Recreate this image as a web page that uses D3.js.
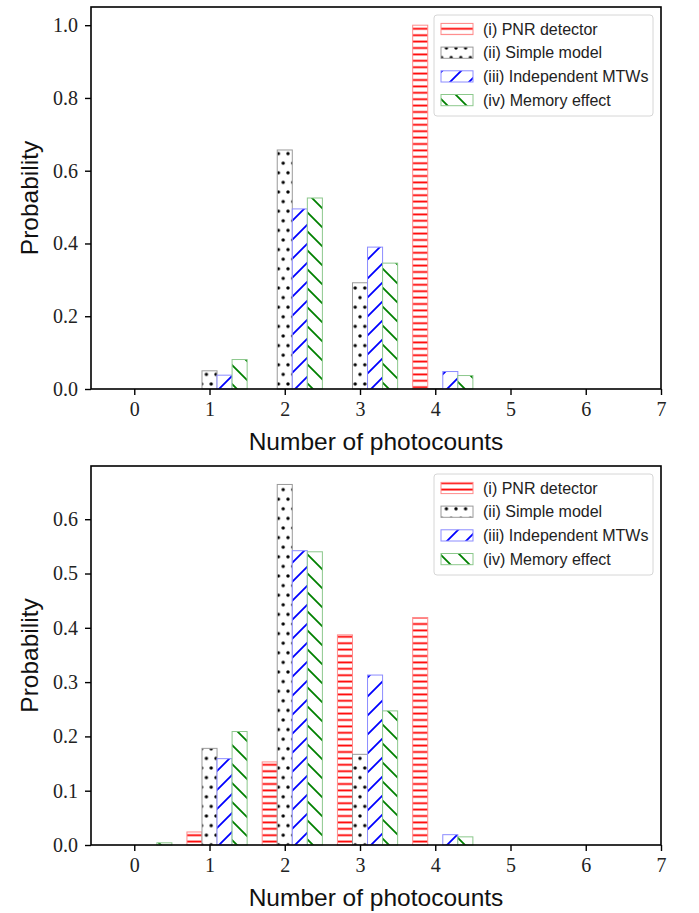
<!DOCTYPE html>
<html>
<head>
<meta charset="utf-8">
<script src="https://cdn.jsdelivr.net/npm/d3@7/dist/d3.min.js"></script>
<style>
  body { margin: 0; background: #fff; }
</style>
</head>
<body>
<div id="chart"></div>
<script>
// data
const photocounts = [0, 1, 2, 3, 4, 5, 6];
const seriesNames = ["(i) PNR detector", "(ii) Simple model", "(iii) Independent MTWs", "(iv) Memory effect"];

const topPNR    = [0, 0, 0, 0, 1.0, 0, 0];
const topSimple = [0, 0.050, 0.657, 0.292, 0.001, 0, 0];
const topMTW    = [0, 0.038, 0.495, 0.390, 0.048, 0, 0];
const topMemory = [0, 0.081, 0.525, 0.346, 0.037, 0, 0];

const bottomPNR    = [0, 0.024, 0.153, 0.387, 0.419, 0, 0];
const bottomSimple = [0, 0.178, 0.664, 0.167, 0, 0, 0];
const bottomMTW    = [0, 0.159, 0.542, 0.313, 0.019, 0, 0];
const bottomMemory = [0.004, 0.209, 0.540, 0.247, 0.015, 0, 0];

const xTicks = [0, 1, 2, 3, 4, 5, 6, 7];
const topYTicks = [0, 0.2, 0.4, 0.6, 0.8, 1.0];
const bottomYTicks = [0, 0.1, 0.2, 0.3, 0.4, 0.5, 0.6];

const w = 699, h = 913;
const left = 91, right = 661;
const barWidth = 0.2;
const offsets = [-0.2, 0, 0.2, 0.4];
const patternIds = ["hatch-h", "hatch-dot", "hatch-fwd", "hatch-back"];
const edgeColors = ["#ff8c8c", "#9a9a9a", "#8c8cff", "#8cc88c"];

let svg = d3.select("#chart")
  .append("svg")
    .attr("width", w)
    .attr("height", h)
    .attr("viewBox", "0 0 " + w + " " + h);

// hatch patterns, anchored to the page like matplotlib hatches
let defs = svg.append("defs");

let ph = defs.append("pattern").attr("id", "hatch-h")
  .attr("patternUnits", "userSpaceOnUse").attr("width", 10).attr("height", 6.4);
ph.append("rect").attr("width", 10).attr("height", 6.4).attr("fill", "#fff");
ph.append("line").attr("x1", 0).attr("x2", 10).attr("y1", 3.2).attr("y2", 3.2)
  .attr("stroke", "#ff0000").attr("stroke-width", 1.8);

let pd = defs.append("pattern").attr("id", "hatch-dot")
  .attr("patternUnits", "userSpaceOnUse").attr("width", 9.6).attr("height", 19.2);
pd.append("rect").attr("width", 9.6).attr("height", 19.2).attr("fill", "#fff");
[[0, 0], [9.6, 0], [0, 19.2], [9.6, 19.2], [4.8, 9.6]].forEach(p => {
  pd.append("circle").attr("cx", p[0]).attr("cy", p[1]).attr("r", 1.7).attr("fill", "#000");
});

let s = 19;
let pf = defs.append("pattern").attr("id", "hatch-fwd")
  .attr("patternUnits", "userSpaceOnUse").attr("width", s).attr("height", s);
pf.append("rect").attr("width", s).attr("height", s).attr("fill", "#fff");
pf.append("path").attr("d", `M-2,${s+2} L${s+2},-2 M-2,2 L2,-2 M${s-2},${s+2} L${s+2},${s-2}`)
  .attr("stroke", "#0000ff").attr("stroke-width", 1.8);

let pb = defs.append("pattern").attr("id", "hatch-back")
  .attr("patternUnits", "userSpaceOnUse").attr("width", s).attr("height", s);
pb.append("rect").attr("width", s).attr("height", s).attr("fill", "#fff");
pb.append("path").attr("d", `M-2,-2 L${s+2},${s+2} M${s-2},-2 L${s+2},2 M-2,${s-2} L2,${s+2}`)
  .attr("stroke", "#008000").attr("stroke-width", 1.8);

function draw_panel(top, bottom, yMax, yTicks, series, xLabelY){
  let xScale = d3.scaleLinear().domain([-0.575, 7]).range([left, right]);
  let yScale = d3.scaleLinear().domain([0, yMax]).range([bottom, top]);
  let g = svg.append("g");

  // bars
  series.forEach((vals, i) => {
    g.append("g").selectAll("rect")
      .data(photocounts)
      .join("rect")
        .attr("x", d => xScale(d + offsets[i] - barWidth / 2))
        .attr("width", xScale(barWidth) - xScale(0))
        .attr("y", d => yScale(vals[d]))
        .attr("height", d => yScale(0) - yScale(vals[d]))
        .attr("fill", "url(#" + patternIds[i] + ")")
        .attr("stroke", edgeColors[i])
        .attr("stroke-width", 1);
  });

  // axes
  let xAxis = d3.axisBottom(xScale).tickValues(xTicks).tickFormat(d3.format("d"))
    .tickSize(6).tickPadding(7);
  let yAxis = d3.axisLeft(yScale).tickValues(yTicks).tickFormat(d3.format(".1f"))
    .tickSize(6).tickPadding(7);
  let gx = g.append("g").attr("transform", "translate(0," + bottom + ")").call(xAxis);
  let gy = g.append("g").attr("transform", "translate(" + left + ",0)").call(yAxis);
  [gx, gy].forEach(a => {
    a.select(".domain").remove();
    a.selectAll(".tick line").attr("stroke", "#000").attr("stroke-width", 1.4);
    a.selectAll(".tick text").attr("fill", "#222")
      .style("font-family", "'Liberation Serif', serif").style("font-size", "20px");
  });

  // frame
  g.append("rect")
    .attr("x", left).attr("y", top)
    .attr("width", right - left).attr("height", bottom - top)
    .attr("fill", "none").attr("stroke", "#000").attr("stroke-width", 1.6);

  // labels
  g.append("text")
    .attr("x", (left + right) / 2).attr("y", xLabelY)
    .attr("text-anchor", "middle")
    .style("font-family", "'Liberation Sans', sans-serif").style("font-size", "24.5px")
    .attr("fill", "#111")
    .text("Number of photocounts");
  g.append("text")
    .attr("transform", "translate(38," + (top + bottom) / 2 + ") rotate(-90)")
    .attr("text-anchor", "middle")
    .style("font-family", "'Liberation Sans', sans-serif").style("font-size", "24.5px")
    .attr("fill", "#111")
    .text("Probability");

  // legend
  let lx = 434, ly = top + 8, lw = 219, lh = 101;
  let lg = g.append("g");
  lg.append("rect")
    .attr("x", lx).attr("y", ly).attr("width", lw).attr("height", lh)
    .attr("rx", 3).attr("fill", "#fff").attr("fill-opacity", 0.8)
    .attr("stroke", "#d6d6d6").attr("stroke-width", 1);
  seriesNames.forEach((name, i) => {
    let cy = ly + 14 + i * 23.7;
    lg.append("rect")
      .attr("x", lx + 7).attr("y", cy - 5.6).attr("width", 32).attr("height", 11.2)
      .attr("fill", "url(#" + patternIds[i] + ")")
      .attr("stroke", edgeColors[i]).attr("stroke-width", 1);
    lg.append("text")
      .attr("x", lx + 49).attr("y", cy + 5.5)
      .style("font-family", "'Liberation Sans', sans-serif").style("font-size", "16px")
      .attr("fill", "#222")
      .text(name);
  });
}

draw_panel(7, 389, 1.05, topYTicks, [topPNR, topSimple, topMTW, topMemory], 450);
draw_panel(466, 845, 0.698, bottomYTicks, [bottomPNR, bottomSimple, bottomMTW, bottomMemory], 906);
</script>
</body>
</html>
